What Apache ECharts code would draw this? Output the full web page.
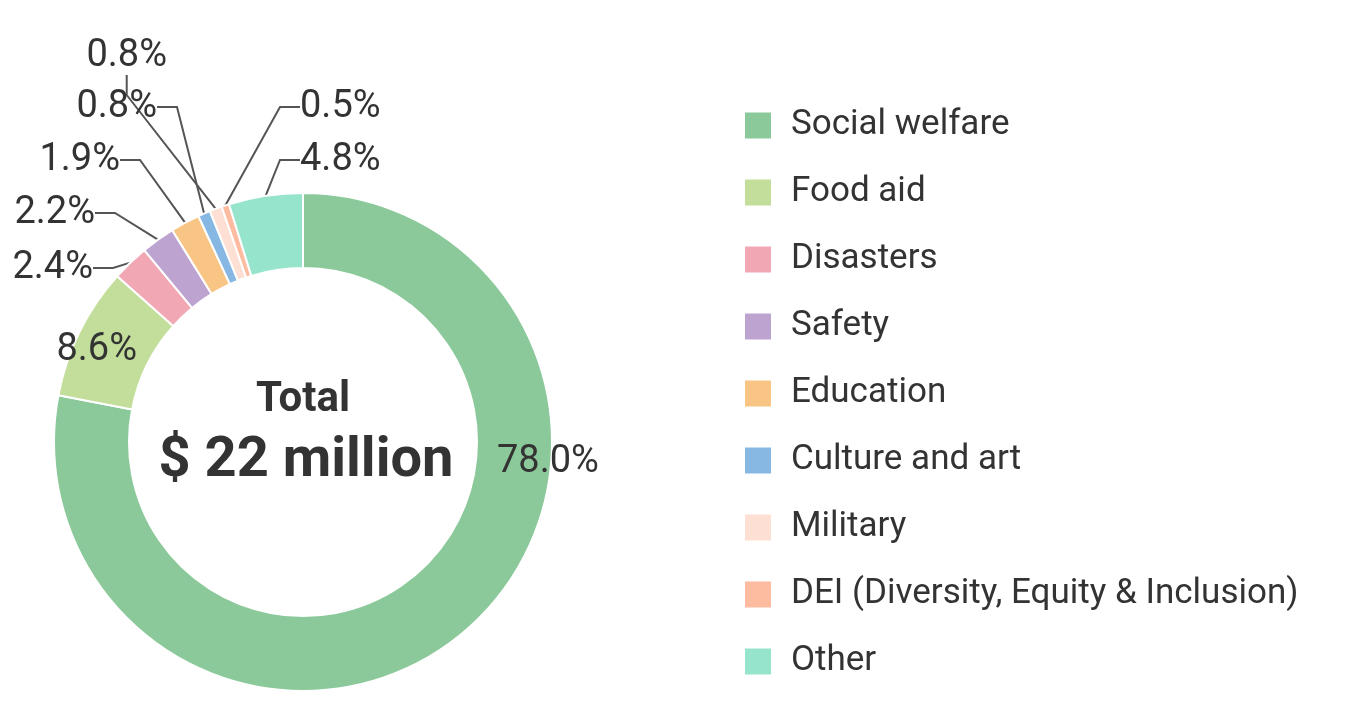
<!DOCTYPE html>
<html>
<head>
<meta charset="utf-8">
<script src="https://cdn.jsdelivr.net/npm/echarts@6/dist/echarts.min.js"></script>
<style>
  html, body { margin: 0; padding: 0; background: #fff; }
  #chart { width: 1352px; height: 707px; }
</style>
</head>
<body>
<div id="chart"></div>
<script>
  // data
  const categories = ['Social welfare', 'Food aid', 'Disasters', 'Safety', 'Education',
    'Culture and art', 'Military', 'DEI (Diversity, Equity & Inclusion)', 'Other'];
  const shares = [78.0, 8.6, 2.4, 2.2, 1.9, 0.8, 0.8, 0.5, 4.8];
  const colors = ['#8bc99a', '#c2de9a', '#f2a7b4', '#bda3d0', '#f9c585',
    '#86b8e3', '#fde0d3', '#fdbba0', '#96e4cb'];

  // where each percentage label sits (x, y, align) and whether it has a leader line
  const labelSpots = [
    [497, 462, 'left', false],
    [137, 350, 'right', false],
    [93, 268, 'right', true],
    [95, 213, 'right', true],
    [120, 160, 'right', true],
    [157, 107, 'right', true],
    [167, 56, 'right', true],
    [300, 107, 'left', true],
    [300, 160, 'left', true]
  ];

  const chart = echarts.init(document.getElementById('chart'));
  chart.setOption({
    animation: false,
    color: colors,
    textStyle: { fontFamily: 'Roboto' },
    legend: {
      orient: 'vertical',
      left: 738,
      top: 100,
      height: 600,
      itemWidth: 28,
      itemHeight: 28,
      itemGap: 26,
      icon: 'rect',
      textStyle: { fontSize: 35, color: '#333', padding: [0, 0, 0, 14], lineHeight: 41 }
    },
    graphic: [{
      type: 'text',
      style: {
        text: 'Total', x: 303, y: 400, fontSize: 42, fontWeight: 'bold',
        fill: '#333', align: 'center', verticalAlign: 'middle', fontFamily: 'Roboto'
      }
    }, {
      type: 'text',
      style: {
        text: '$ 22 million', x: 306, y: 462, fontSize: 56, fontWeight: 'bold',
        fill: '#333', align: 'center', verticalAlign: 'middle', fontFamily: 'Roboto'
      }
    }],
    series: [{
      type: 'pie',
      center: [303, 442],
      radius: [174, 249],
      startAngle: 90,
      clockwise: true,
      avoidLabelOverlap: false,
      itemStyle: { borderColor: '#fff', borderWidth: 2 },
      label: {
        show: true,
        formatter: p => p.value.toFixed(1) + '%',
        fontSize: 38,
        color: '#333',
        overflow: 'none',
        width: 200
      },
      labelLine: { show: true, lineStyle: { color: '#555', width: 2 }, length: 20, length2: 20 },
      labelLayout: p => {
        const s = labelSpots[p.dataIndex];
        return { x: s[0], y: s[1], align: s[2], verticalAlign: 'middle', hideOverlap: false };
      },
      data: categories.map((name, i) => ({
        name,
        value: shares[i],
        labelLine: { show: labelSpots[i][3] }
      }))
    }]
  });
</script>
</body>
</html>
